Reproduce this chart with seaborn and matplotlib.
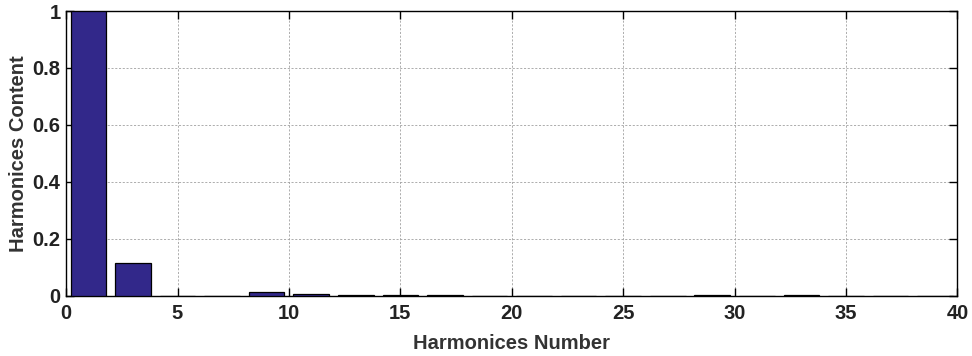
import matplotlib
matplotlib.use("Agg")
import matplotlib.pyplot as plt
import seaborn as sns
import pandas as pd

# Odd harmonic orders and their normalised amplitudes
harmonic_order = [1, 3, 5, 7, 9, 11, 13, 15, 17, 19,
                  21, 23, 25, 27, 29, 31, 33, 35, 37, 39]
harmonic_content = [1.0, 0.116, 0.001, 0.0005, 0.012, 0.007, 0.004, 0.004, 0.0015, 0.001,
                    0.001, 0.001, 0.001, 0.001, 0.0015, 0.001, 0.0015, 0.001, 0.0008, 0.0005]
x_ticks = [0, 5, 10, 15, 20, 25, 30, 35, 40]
y_ticks = [0, 0.2, 0.4, 0.6, 0.8, 1]
y_tick_labels = ["0", "0.2", "0.4", "0.6", "0.8", "1"]

df = pd.DataFrame({"order": harmonic_order, "content": harmonic_content})

sns.set_theme(style="white")
plt.rcParams["font.family"] = ["Liberation Sans", "DejaVu Sans"]
plt.rcParams["font.weight"] = "bold"

fig = plt.figure(figsize=(9.72, 3.56), dpi=100)
ax = fig.add_axes([0.068, 0.169, 0.917, 0.800])

sns.barplot(data=df, x="order", y="content", native_scale=True, width=0.8,
            color="#32288A", saturation=1, edgecolor="black", linewidth=0.9,
            ax=ax, zorder=3)

ax.set_xlim(0, 40)
ax.set_ylim(0, 1)
ax.set_xticks(x_ticks)
ax.set_xticklabels([str(t) for t in x_ticks])
ax.set_yticks(y_ticks)
ax.set_yticklabels(y_tick_labels)

ax.grid(True, color="#a0a0a0", linestyle=(0, (2.5, 2.0)), linewidth=0.6, zorder=0)
ax.set_axisbelow(True)
for sp in ax.spines.values():
    sp.set_visible(True)
    sp.set_color("black")
    sp.set_linewidth(1.0)

ax.tick_params(axis="both", direction="in", length=6, width=1.0, colors="black",
               labelsize=14.5, top=True, right=True, bottom=True, left=True)
ax.tick_params(axis="x", pad=6)
ax.tick_params(axis="y", pad=4)
for lbl in ax.get_xticklabels() + ax.get_yticklabels():
    lbl.set_fontweight("bold")
    lbl.set_color("#222222")

ax.set_xlabel("Harmonices Number", fontsize=14.5, fontweight="bold", labelpad=8, color="#333333")
ax.set_ylabel("Harmonices Content", fontsize=14.5, fontweight="bold", labelpad=3, color="#333333")

fig.savefig("out.png", dpi=100, facecolor="white")
